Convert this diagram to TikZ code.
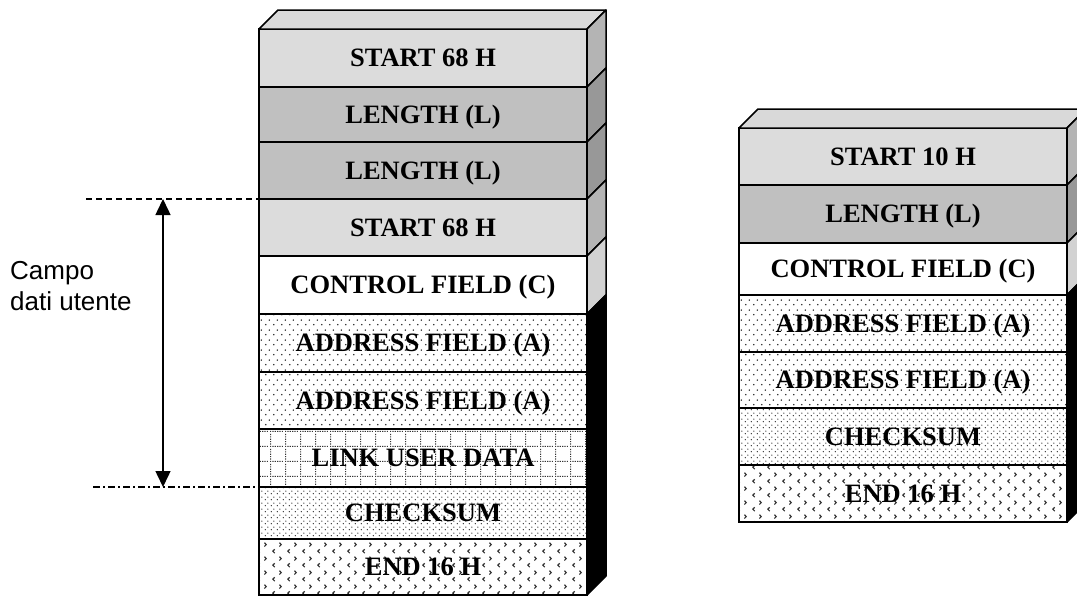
\documentclass[tikz,border=0pt]{standalone}
\usepackage{fontspec}
\setmainfont{Liberation Serif}
\newfontfamily\labelfont{Liberation Sans}
\usetikzlibrary{patterns.meta,arrows.meta,calc}

\definecolor{frontlight}{HTML}{DCDCDC}
\definecolor{frontmid}{HTML}{C0C0C0}
\definecolor{topface}{HTML}{D9D9D9}
\definecolor{sidelight}{HTML}{B4B4B4}
\definecolor{sidemid}{HTML}{989898}
\definecolor{sidepale}{HTML}{D2D2D2}

% sparse staggered dots
\pgfdeclarepattern{
  name=sparsedots, type=uncolored,
  bottom left={\pgfpoint{0pt}{0pt}}, top right={\pgfpoint{8pt}{10pt}},
  tile size={\pgfpoint{8pt}{10pt}},
  code={
    \pgfpathcircle{\pgfpoint{2pt}{2.5pt}}{0.9pt}
    \pgfpathcircle{\pgfpoint{6pt}{7.5pt}}{0.9pt}
    \pgfusepath{fill}
  }
}
% dense staggered dots
\pgfdeclarepattern{
  name=densedots, type=uncolored,
  bottom left={\pgfpoint{0pt}{0pt}}, top right={\pgfpoint{6pt}{6pt}},
  tile size={\pgfpoint{6pt}{6pt}},
  code={
    \pgfpathcircle{\pgfpoint{1.5pt}{1.5pt}}{0.8pt}
    \pgfpathcircle{\pgfpoint{4.5pt}{4.5pt}}{0.8pt}
    \pgfusepath{fill}
  }
}
% dotted grid
\pgfdeclarepattern{
  name=dotgrid, type=uncolored,
  bottom left={\pgfpoint{0pt}{0pt}}, top right={\pgfpoint{15pt}{15pt}},
  tile size={\pgfpoint{15pt}{15pt}},
  code={
    \pgfpathrectangle{\pgfpoint{0pt}{0pt}}{\pgfpoint{1.3pt}{1.3pt}}
    \pgfpathrectangle{\pgfpoint{2.5pt}{0pt}}{\pgfpoint{1.3pt}{1.3pt}}
    \pgfpathrectangle{\pgfpoint{5pt}{0pt}}{\pgfpoint{1.3pt}{1.3pt}}
    \pgfpathrectangle{\pgfpoint{7.5pt}{0pt}}{\pgfpoint{1.3pt}{1.3pt}}
    \pgfpathrectangle{\pgfpoint{10pt}{0pt}}{\pgfpoint{1.3pt}{1.3pt}}
    \pgfpathrectangle{\pgfpoint{12.5pt}{0pt}}{\pgfpoint{1.3pt}{1.3pt}}
    \pgfpathrectangle{\pgfpoint{0pt}{2.5pt}}{\pgfpoint{1.3pt}{1.3pt}}
    \pgfpathrectangle{\pgfpoint{0pt}{5pt}}{\pgfpoint{1.3pt}{1.3pt}}
    \pgfpathrectangle{\pgfpoint{0pt}{7.5pt}}{\pgfpoint{1.3pt}{1.3pt}}
    \pgfpathrectangle{\pgfpoint{0pt}{10pt}}{\pgfpoint{1.3pt}{1.3pt}}
    \pgfpathrectangle{\pgfpoint{0pt}{12.5pt}}{\pgfpoint{1.3pt}{1.3pt}}
    \pgfusepath{fill}
  }
}
% small chevrons
\pgfdeclarepattern{
  name=chevrons, type=uncolored,
  bottom left={\pgfpoint{0pt}{0pt}}, top right={\pgfpoint{15pt}{14pt}},
  tile size={\pgfpoint{15pt}{14pt}},
  code={
    \pgfsetlinewidth{1.2pt}
    \pgfpathmoveto{\pgfpoint{5pt}{6pt}}
    \pgfpathlineto{\pgfpoint{3pt}{4pt}}
    \pgfpathlineto{\pgfpoint{5pt}{2pt}}
    \pgfpathmoveto{\pgfpoint{10pt}{13pt}}
    \pgfpathlineto{\pgfpoint{12pt}{11pt}}
    \pgfpathlineto{\pgfpoint{10pt}{9pt}}
    \pgfusepath{stroke}
  }
}

\newcommand\sideface[3]{%
  \filldraw[fill=#3, line width=1.5pt, line join=round]
    (#1.north east) -- ++(19,-19) -- ($(#2.south east)+(19,-19)$)
    -- (#2.south east) -- cycle;}
\newcommand\topface[1]{%
  \filldraw[fill=topface, line width=1.5pt, line join=round]
    (#1.north west) -- ++(19,-19) -- ($(#1.north east)+(19,-19)$)
    -- (#1.north east) -- cycle;}

\begin{document}
\begin{tikzpicture}[x=1pt, y=-1pt,
  field/.style={draw, line width=1.5pt, minimum width=328pt, inner sep=0pt,
    outer sep=0pt, text height=17pt, text depth=0pt,
    font=\fontsize{26.5}{30}\selectfont\bfseries},
  sparse/.style={pattern=sparsedots, pattern color=black!85},
  dense/.style={pattern=densedots, pattern color=black!80},
  grid/.style={pattern=dotgrid, pattern color=black!80},
  chev/.style={pattern=chevrons, pattern color=black!80},
  guide/.style={line width=1.2pt}]
\path[use as bounding box] (0,0) rectangle (1077,597);
\clip (0,0) rectangle (1077,597);

% ---- left frame ----
\node[field, fill=frontlight, minimum height=58] (a1)  at (423,58)    {START 68 H};
\node[field, fill=frontmid,   minimum height=55] (a2)  at (423,114.5) {LENGTH (L)};
\node[field, fill=frontmid,   minimum height=57] (a3)  at (423,170.5) {LENGTH (L)};
\node[field, fill=frontlight, minimum height=57] (a4)  at (423,227.5) {START 68 H};
\node[field, fill=white,      minimum height=58] (a5)  at (423,285)   {CONTROL FIELD (C)};
\node[field, sparse,          minimum height=58] (a6)  at (423,343)   {ADDRESS FIELD (A)};
\node[field, sparse,          minimum height=57] (a7)  at (423,400.5) {ADDRESS FIELD (A)};
\node[field, grid,            minimum height=58] (a8)  at (423,458)   {LINK USER DATA};
\node[field, dense,           minimum height=52] (a9)  at (423,513)   {CHECKSUM};
\node[field, chev,            minimum height=56] (a10) at (423,567)   {END 16 H};

\topface{a1}
\sideface{a1}{a1}{sidelight}
\sideface{a2}{a2}{sidemid}
\sideface{a3}{a3}{sidemid}
\sideface{a4}{a4}{sidelight}
\sideface{a5}{a5}{sidepale}
\sideface{a6}{a10}{black}

% ---- right frame ----
\node[field, fill=frontlight, minimum height=57] (b1) at (903,156.5) {START 10 H};
\node[field, fill=frontmid,   minimum height=58] (b2) at (903,214)   {LENGTH (L)};
\node[field, fill=white,      minimum height=52] (b3) at (903,269)   {CONTROL FIELD (C)};
\node[field, sparse,          minimum height=57] (b4) at (903,323.5) {ADDRESS FIELD (A)};
\node[field, sparse,          minimum height=56] (b5) at (903,380)   {ADDRESS FIELD (A)};
\node[field, dense,           minimum height=57] (b6) at (903,436.5) {CHECKSUM};
\node[field, chev,            minimum height=57] (b7) at (903,493.5) {END 16 H};

\topface{b1}
\sideface{b1}{b1}{sidelight}
\sideface{b2}{b2}{sidemid}
\sideface{b3}{b3}{sidepale}
\sideface{b4}{b7}{black}

% ---- user data span ----
\coordinate (spantop) at (163,199);
\coordinate (spanbot) at (163,487);
\coordinate (topstart) at (86,199);
\coordinate (topend) at (297,199);
\coordinate (botstart) at (93,487);
\draw[guide, dash pattern=on 6pt off 4pt] (topstart) -- (topend);
\draw[guide, dash pattern=on 7pt off 3pt on 2pt off 3pt] (botstart) -- (a9.north west);
\draw[line width=1.5pt, {Triangle[length=16pt,width=15pt]}-{Triangle[length=16pt,width=15pt]}]
  (spantop) -- (spanbot);

\node[anchor=base west, inner sep=0pt, align=left,
  font=\labelfont\fontsize{26}{31}\selectfont] (lbl) at (10,310)
  {Campo\\dati utente};
\end{tikzpicture}
\end{document}
